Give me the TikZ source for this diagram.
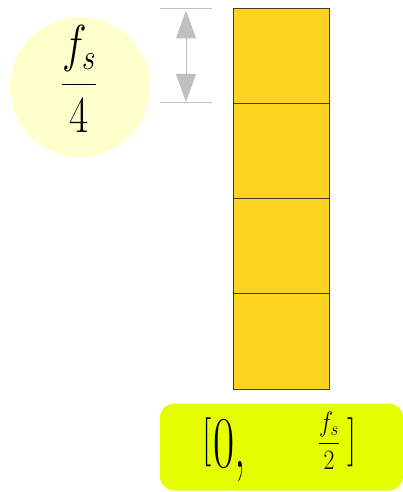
\RequirePackage{fix-cm}
\documentclass[tikz,border=0pt]{standalone}
\usepackage{amsmath}
\usetikzlibrary{arrows.meta}
\definecolor{barfill}{RGB}{253,211,32}
\definecolor{barline}{RGB}{70,62,40}
\definecolor{paleyel}{RGB}{255,255,204}
\definecolor{limeyel}{RGB}{228,255,0}
\definecolor{guidegray}{RGB}{192,192,192}

\begin{document}
\begin{tikzpicture}[x=1pt,y=-1pt,
  band/.style={draw=barline,line width=0.9pt,fill=barfill,minimum width=96pt,minimum height=95.25pt,inner sep=0pt},
  guide/.style={guidegray,line width=1pt}]
\useasboundingbox (0,0) rectangle (403,492);

\node[circle,fill=paleyel,minimum size=140pt,inner sep=0pt] (bubble) at (80,87) {};
\node[inner sep=0pt,anchor=base] (quarter) at (79,97) {\fontsize{52}{52}\selectfont\scalebox{0.8}[1]{$\displaystyle\frac{f_s}{4}$}};

\foreach \i in {0,1,2,3}
  \node[band] (seg\i) at (281,55.6+95.25*\i) {};

\coordinate (extA) at (160,9);
\coordinate (extB) at (212,9);
\coordinate (extC) at (160,103);
\coordinate (extD) at (212,103);
\coordinate (dimtop) at (186,10.5);
\coordinate (dimbot) at (186,102);
\draw[guide] (extA) -- (extB);
\draw[guide] (extC) -- (extD);
\draw[guide,{Triangle[length=28pt,width=20pt]}-{Triangle[length=28pt,width=20pt]}] (dimtop) -- (dimbot);

\node[fill=limeyel,rounded corners=14pt,minimum width=243pt,minimum height=87pt,inner sep=0pt] (range) at (281.5,447) {};
\node[inner sep=0pt] (lbr) at (207,442) {\fontsize{49}{49}\selectfont\scalebox{0.75}[1]{[}};
\node[inner sep=0pt,anchor=base west] (zero) at (213,467) {\fontsize{73}{73}\selectfont\scalebox{0.63}[1]{0,}};
\node[inner sep=0pt,anchor=base] (half) at (329,450) {\fontsize{28}{28}\selectfont\scalebox{0.85}[1]{$\displaystyle\frac{f_s}{2}$}};
\node[inner sep=0pt] (rbr) at (352,442) {\fontsize{49}{49}\selectfont\scalebox{0.75}[1]{]}};
\end{tikzpicture}
\end{document}
